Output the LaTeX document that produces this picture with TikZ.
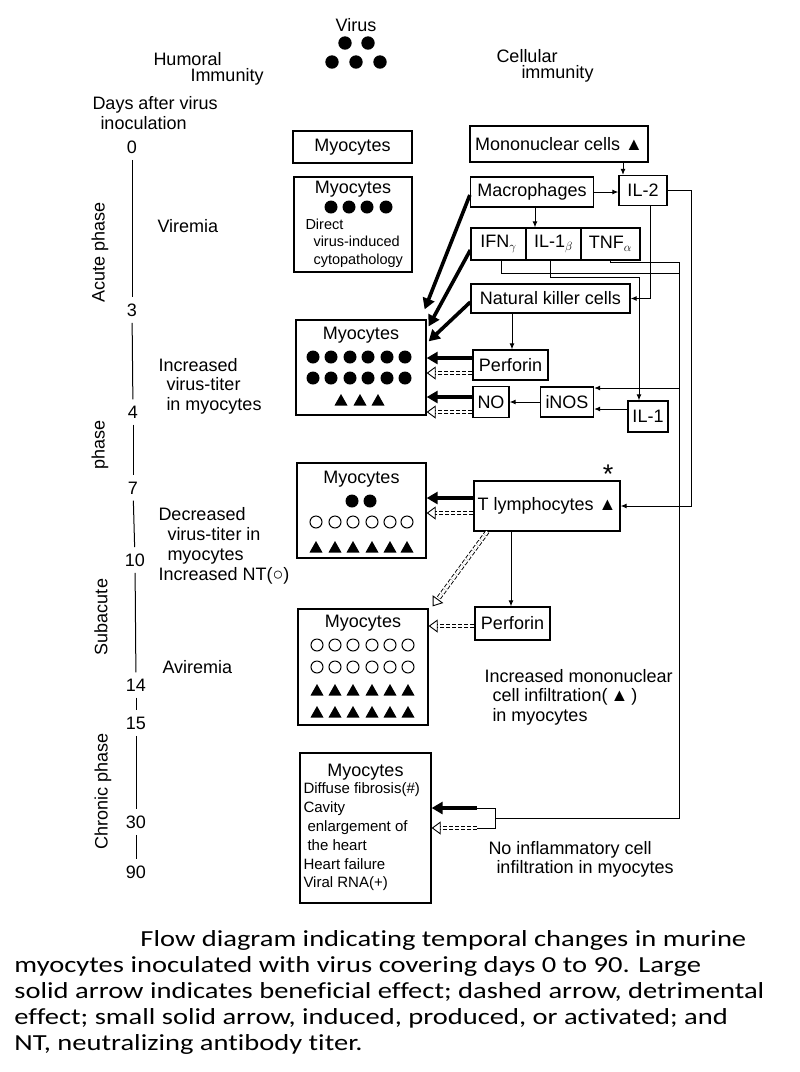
\documentclass[tikz,border=0pt]{standalone}
\usepackage{fontspec}
\setmainfont{Liberation Sans}
\newfontfamily\capfont[FakeStretch=1.24, Ligatures=NoCommon]{Carlito}
\usetikzlibrary{arrows.meta}

\begin{document}
\begin{tikzpicture}[x=1pt, y=-1pt, line width=1pt,
    every node/.style={inner sep=0pt, font=\fontsize{18}{19.5}\selectfont},
    box/.style={draw, line width=1.3pt},
    txt/.style={anchor=west, align=left},
    day/.style={inner ysep=6pt},
    feed/.style={-{Latex[length=6pt, width=5pt]}},
    good/.style={line width=3.6pt, -{Triangle[length=11pt, width=12pt]}},
    harm/.style={double, double distance=2.8pt, line width=0.9pt,
                 dash pattern=on 4pt off 2pt, -{Triangle[open, length=9pt, width=13pt]}}]

  \fill[white] (0,0) rectangle (800,1072);
  \useasboundingbox (0,0) rectangle (800,1072);

  % headings
  \node (virus) at (356,25) {Virus};
  \foreach \x/\y in {345/43, 368/43, 332/62, 356/62, 380/62}
    \fill (\x,\y) circle (6.7pt);
  \node[txt] (hum) at (153,59) {Humoral};
  \node[txt] (humb) at (190,77) {Immunity};
  \node[txt] (cel) at (496,56) {Cellular};
  \node[txt] (celb) at (521,74) {immunity};
  \node[txt] (days) at (92,113) {Days after virus\\\hspace*{8pt}inoculation};

  % time axis
  \node[day] (d0) at (132,147) {0};
  \node[day] (d3) at (132,310) {3};
  \node[day] (d4) at (133,412) {4};
  \node[day] (d7) at (133,488) {7};
  \node[day] (d10) at (135,560) {10};
  \node[day] (d14) at (136,685) {14};
  \node[day] (d15) at (136,723) {15};
  \node[day] (d30) at (136,822) {30};
  \node[day] (d90) at (136,872) {90};
  \draw (d0) -- (d3);
  \draw (d3) -- (d4);
  \draw (d4) -- (d7);
  \draw (d7) -- (d10);
  \draw (d10) -- (d14);
  \draw (d14) -- (d15);
  \draw (d15) -- (d30);
  \draw (d30) -- (d90);
  \node[rotate=90] (acute) at (100,252) {Acute phase};
  \node[rotate=90] (phs) at (100,445) {phase};
  \node[rotate=90] (subac) at (101,617) {Subacute};
  \node[rotate=90] (chron) at (103,791) {Chronic phase};

  % humoral side
  \node[txt] (vir) at (157,226) {Viremia};
  \node[txt] (incr) at (158,386) {Increased\\\hspace*{8pt}virus-titer\\\hspace*{8pt}in myocytes};
  \node[txt, font=\fontsize{18}{20}\selectfont] (decr) at (158,546)
    {Decreased\\\hspace*{9pt}virus-titer in\\\hspace*{9pt}myocytes\\Increased NT(○)};
  \node[txt] (avir) at (162,667) {Aviremia};

  % myocytes
  \node[box, minimum width=119pt, minimum height=32pt] (myoa) at (352.5,147) {Myocytes};

  \node[box, minimum width=118pt, minimum height=95pt] (myob) at (353,224.5) {};
  \node (myobt) at (353,189) {Myocytes};
  \foreach \x in {331,349,367,386}
    \fill (\x,207) circle (6.5pt);
  \node[txt, font=\fontsize{14.5}{17.5}\selectfont] (direct) at (305,243)
    {Direct\\\hspace*{8pt}virus-induced\\\hspace*{8pt}cytopathology};

  \node[box, minimum width=130pt, minimum height=95pt] (myoc) at (361,367.5) {};
  \node (myoct) at (361,335) {Myocytes};
  \foreach \x in {313,331,350,368,387,405} {
    \fill (\x,357) circle (6.5pt);
    \fill (\x,378) circle (6.5pt);
  }
  \foreach \x in {341,360,378}
    \fill (\x,400) ++(0,-6) -- ++(6.5,11.5) -- ++(-13,0) -- cycle;

  \node[box, minimum width=129pt, minimum height=95pt] (myod) at (361.5,510.5) {};
  \node (myodt) at (361.5,479) {Myocytes};
  \fill (352,501) circle (6.5pt);
  \fill (370,501) circle (6.5pt);
  \foreach \x in {316,335,353,372,390,407} {
    \draw (\x,522) circle (6pt);
    \fill (\x,547) ++(0,-6) -- ++(6.5,11.5) -- ++(-13,0) -- cycle;
  }

  \node[box, minimum width=130pt, minimum height=116pt] (myoe) at (363,667) {};
  \node (myoet) at (363,623) {Myocytes};
  \foreach \x in {317,335,353,372,390,408} {
    \draw (\x,645) circle (6pt);
    \draw (\x,667) circle (6pt);
    \fill (\x,690) ++(0,-6) -- ++(6.5,11.5) -- ++(-13,0) -- cycle;
    \fill (\x,712) ++(0,-6) -- ++(6.5,11.5) -- ++(-13,0) -- cycle;
  }

  \node[box, minimum width=131pt, minimum height=150pt] (myof) at (365.5,828) {};
  \node (myoft) at (365.5,772) {Myocytes};
  \node[txt, font=\fontsize{15}{18.8}\selectfont] (fibro) at (303,837)
    {Diffuse fibrosis(\#)\\Cavity\\\hspace*{4pt}enlargement of\\\hspace*{4pt}the heart\\Heart failure\\Viral RNA(+)};

  % cellular side
  \node[box, minimum width=178pt, minimum height=36pt] (mono) at (559,144) {Mononuclear cells ▲};
  \node[box, minimum width=123pt, minimum height=30pt] (mac) at (532,192) {Macrophages};
  \node[box, minimum width=48pt, minimum height=30pt] (iltwo) at (643,190.5) {IL-2};
  \node[box, minimum width=55pt, minimum height=32pt] (ifn) at (498.5,244) {IFN$_\gamma$};
  \node[box, minimum width=55pt, minimum height=32pt] (ilb) at (553.5,244) {IL-1$_\beta$};
  \node[box, minimum width=59pt, minimum height=32pt] (tnf) at (610.5,244) {TNF$_\alpha$};
  \node[box, minimum width=159pt, minimum height=29pt] (nk) at (550.5,298.5) {Natural killer cells};
  \node[box, minimum width=75pt, minimum height=30pt] (perfa) at (510.5,365) {Perforin};
  \node[box, minimum width=36pt, minimum height=31pt] (no) at (491,402) {NO};
  \node[box, minimum width=53pt, minimum height=30pt] (inos) at (567,402) {iNOS};
  \node[box, minimum width=40pt, minimum height=31pt] (ilone) at (648,416.5) {IL-1};
  \node[box, minimum width=146pt, minimum height=50pt] (tly) at (547,506) {T lymphocytes ▲};
  \node (star) at (608,474) {\fontsize{27}{27}\selectfont *};
  \node[box, minimum width=75pt, minimum height=33pt] (perfb) at (512.5,623.5) {Perforin};
  \node[txt] (infl) at (484,697)
    {Increased mononuclear\\\hspace*{8pt}cell infiltration(\,▲\,)\\\hspace*{8pt}in myocytes};
  \node[txt] (noinf) at (488,859.5) {No inflammatory cell\\\hspace*{8pt}infiltration in myocytes};

  % small arrows
  \draw[feed] (mono.south -| 623,0) -- (iltwo.north -| 623,0);
  \draw[feed] (mac.east) -- (mac.east -| iltwo.west);
  \draw[feed] (mac.south -| 535,0) -- (ilb.north -| 535,0);
  \draw[feed] (iltwo.south -| 650,0) |- (nk.east);
  \draw[feed] (iltwo.east) -- ++(24,0) |- (tly.east);
  \draw (ifn.south -| 501,0) |- (679,273);
  \draw[feed] (ilb.south -| 550,0) |- (639,277) -- (ilone.north -| 639,0);
  \coordinate (brka) at (477,808);
  \coordinate (brkb) at (477,828);
  \coordinate (brkm) at (495,818);
  \draw (tnf.south) |- (679,262) |- (brkm);
  \draw (brka) -- ++(18,0) |- (brkb);
  \draw[feed] (679,388) -- (inos.east |- 0,388);
  \draw[feed] (ilone.west |- 0,409) -- (inos.east |- 0,409);
  \draw[feed] (inos) -- (no);
  \draw[feed] (nk.south -| 512,0) -- (perfa.north -| 512,0);
  \draw[feed] (tly.south -| 511,0) -- (perfb.north -| 511,0);

  % large arrows
  \draw[good] ([yshift=-3pt]mac.west) -- ([shift={(-2pt,10pt)}]myoc.north east);
  \draw[good] ([yshift=-6pt]ifn.west) -- ([shift={(2pt,-7pt)}]myoc.north east);
  \draw[good] ([yshift=-3.5pt]nk.west) -- ([shift={(2pt,-22pt)}]myoc.north east);
  \draw[good] (perfa.west |- 0,358) -- (myoc.east |- 0,358);
  \draw[harm] (perfa.west |- 0,373) -- (myoc.east |- 0,373);
  \draw[good] (no.west |- 0,397) -- (myoc.east |- 0,397);
  \draw[harm] (no.west |- 0,412) -- (myoc.east |- 0,412);
  \draw[good] (tly.west |- 0,498) -- (myod.east |- 0,498);
  \draw[harm] (tly.west |- 0,513) -- (myod.east |- 0,513);
  \draw[harm] ([xshift=14pt]tly.south west) -- ([shift={(4pt,2pt)}]myoe.north east);
  \draw[harm] (perfb.west |- 0,626) -- (myoe.east |- 0,626);
  \draw[good] (brka) -- (myof.east |- brka);
  \draw[harm] (brkb) -- (myof.east |- brkb);

  % caption
  \node[anchor=west, align=left, font=\capfont\fontsize{23}{26}\selectfont] (cap) at (14,992)
    {\hspace*{126pt}Flow diagram indicating temporal changes in murine\\
     myocytes inoculated with virus covering days 0 to 90. Large\\
     solid arrow indicates beneficial effect; dashed arrow, detrimental\\
     effect; small solid arrow, induced, produced, or activated; and\\
     NT, neutralizing antibody titer.};
\end{tikzpicture}
\end{document}
